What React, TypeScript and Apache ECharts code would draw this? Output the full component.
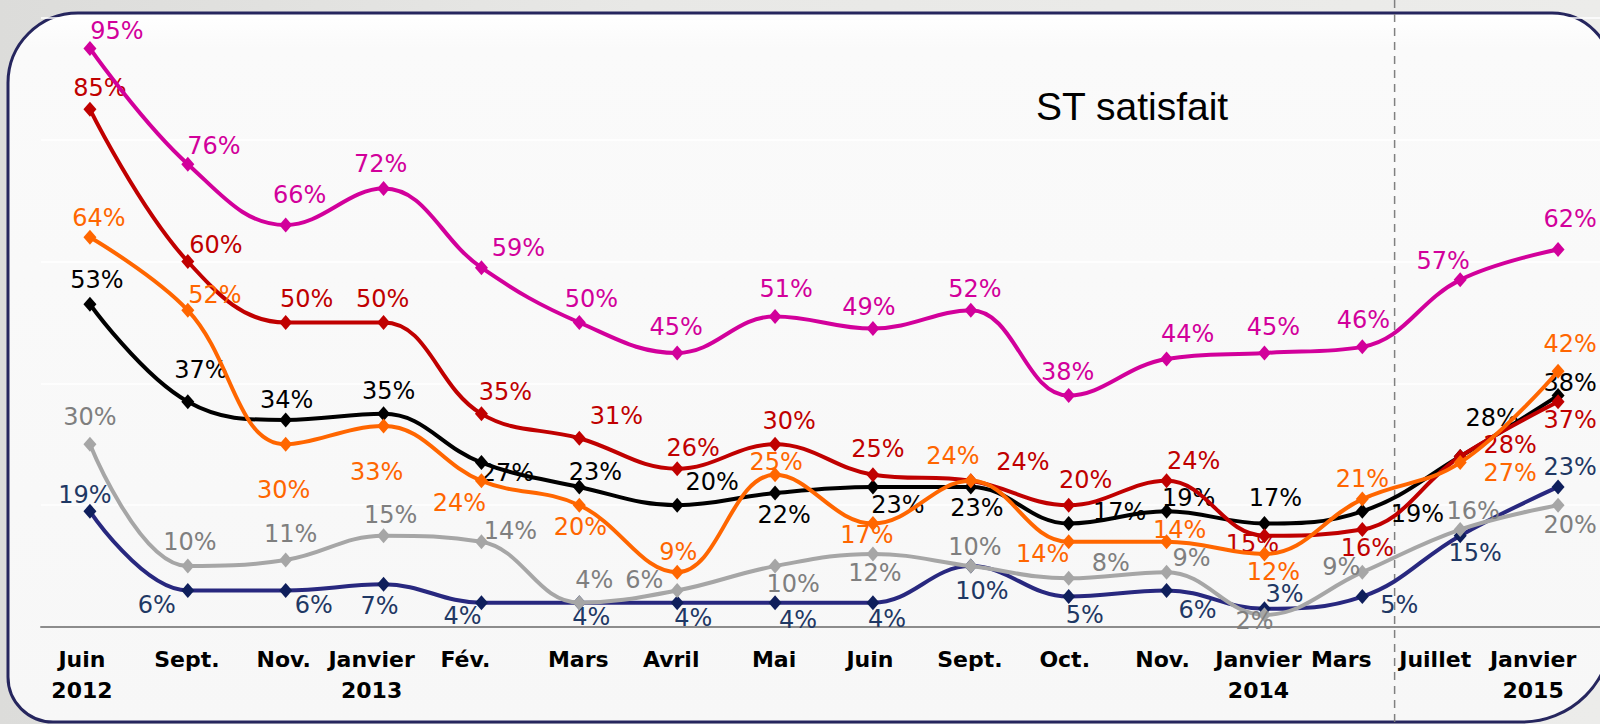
import React, { useEffect, useRef } from "react";
import * as echarts from "echarts";

const categories = ["Juin\n2012", "Sept.", "Nov.", "Janvier\n2013", "Fév.", "Mars", "Avril", "Mai", "Juin", "Sept.", "Oct.", "Nov.", "Janvier\n2014", "Mars", "Juillet", "Janvier\n2015"];
const tickShift = [-8, -1, -2, -12, -16, -1, -6, -1, -3, -1, -4, -4, -6, -21, -25, -25];

const magentaValues = [95, 76, 66, 72, 59, 50, 45, 51, 49, 52, 38, 44, 45, 46, 57, 62];
const redValues = [85, 60, 50, 50, 35, 31, 26, 30, 25, 24, 20, 24, 15, 16, 28, 37];
const orangeValues = [64, 52, 30, 33, 24, 20, 9, 25, 17, 24, 14, 14, 12, 21, 27, 42];
const blackValues = [53, 37, 34, 35, 27, 23, 20, 22, 23, 23, 17, 19, 17, 19, 28, 38];
const greyValues = [30, 10, 11, 15, 14, 4, 6, 10, 12, 10, 8, 9, 2, 9, 16, 20];
const navyValues = [19, 6, 6, 7, 4, 4, 4, 4, 4, 10, 5, 6, 3, 5, 15, 23];

// label offsets relative to each point (style only)
const magentaLabelOffset = [[27, -17], [26, -18], [14, -30], [-3, -25], [37, -20], [12, -24], [-1, -26], [11, -27], [-4, -22], [4, -21], [-1, -24], [21, -25], [9, -26], [1, -27], [-17, -19], [12, -30]];
const redLabelOffset = [[10, -21], [28, -17], [21, -24], [-1, -24], [24, -22], [37, -22], [16, -21], [14, -23], [5, -26], [52, -19], [17, -25], [27, -20], [-12, 8], [5, 18], [50, -11], [12, 18]];
const orangeLabelOffset = [[9, -19], [27, -15], [-2, 46], [-7, 46], [-22, 22], [1, 22], [1, -20], [1, -13], [-6, 12], [-18, -25], [-26, 12], [13, -12], [9, 18], [0, -20], [50, 10], [12, -27]];
const blackLabelOffset = [[7, -24], [13, -32], [1, -20], [5, -23], [26, 10], [16, -15], [35, -23], [9, 22], [25, 18], [6, 21], [51, -11], [22, -13], [11, -25], [55, 3], [32, -38], [12, -13]];
const greyLabelOffset = [[0, -27], [2, -24], [5, -26], [7, -21], [29, -11], [15, -23], [-33, -10], [18, 18], [2, 19], [4, -19], [42, -15], [25, -14], [-10, 6], [-21, -5], [13, -19], [12, 20]];
const navyLabelOffset = [[-5, -16], [-31, 15], [28, 15], [-4, 22], [-19, 13], [12, 14], [16, 15], [23, 17], [14, 16], [11, 25], [16, 18], [31, 20], [20, -15], [37, 8], [15, 17], [12, -20]];

const LABEL_FONT = '"DejaVu Sans", Verdana, sans-serif';

function makeSeries(name: string, values: number[], offsets: number[][], lineColor: string, labelColor: string, markerColor: string, z: number) {
  return {
    name,
    type: "line",
    smooth: 0.4,
    z,
    symbol: "diamond",
    symbolSize: [13, 15],
    lineStyle: { color: lineColor, width: 4 },
    itemStyle: { color: markerColor },
    label: {
      show: true,
      position: "inside",
      formatter: "{c}%",
      color: labelColor,
      fontFamily: LABEL_FONT,
      fontSize: 24,
    },
    data: values.map((v, i) => ({ value: v, label: { offset: offsets[i] } })),
  };
}

export default function App() {
  const ref = useRef<HTMLDivElement>(null);
  useEffect(() => {
    if (!ref.current) return;
    const chart = echarts.init(ref.current, null, { renderer: "svg" });
    const option: any = {
      animation: false,
      backgroundColor: "transparent",
      grid: { left: 41, width: 1566, top: 18, bottom: 97, containLabel: false, outerBoundsMode: "none" },
      xAxis: {
        type: "category",
        boundaryGap: true,
        data: categories.map((c, i) => ({
          value: c,
          textStyle: { padding: [0, Math.max(0, -tickShift[i] * 2), 0, 0] },
        })),
        axisLine: { show: true, lineStyle: { color: "#8c8c8c", width: 2 } },
        axisTick: { show: false },
        axisLabel: {
          interval: 0,
          margin: 17,
          color: "#000",
          fontFamily: LABEL_FONT,
          fontWeight: "bold",
          fontSize: 22,
          lineHeight: 31,
          hideOverlap: false,
        },
        splitLine: { show: false },
      },
      yAxis: {
        type: "value",
        min: 0,
        max: 100,
        interval: 20,
        axisLine: { show: false },
        axisTick: { show: false },
        axisLabel: { show: false },
        splitLine: { show: true, lineStyle: { color: "#ffffff", width: 1.5 } },
      },
      graphic: [
        {
          type: "rect",
          z: -10,
          silent: true,
          shape: { x: 8, y: 13, width: 1604, height: 709, r: [70, 60, 90, 45] },
          style: {
            fill: new echarts.graphic.LinearGradient(0, 0, 0, 1, [
              { offset: 0, color: "#ffffff" },
              { offset: 0.05, color: "#fafafa" },
              { offset: 1, color: "#f7f7f7" },
            ]),
            stroke: "#26265e",
            lineWidth: 3,
          },
        },
        {
          type: "text",
          left: 1036,
          top: 87,
          z: 10,
          style: {
            text: "ST satisfait",
            fill: "#000",
            font: '39px "Liberation Sans", Arial, sans-serif',
          },
        },
      ],
      series: [
        makeSeries("navy", navyValues, navyLabelOffset, "#28287f", "#1f3864", "#0f1f5c", 2),
        makeSeries("gris", greyValues, greyLabelOffset, "#a6a6a6", "#7f7f7f", "#a6a6a6", 3),
        makeSeries("noir", blackValues, blackLabelOffset, "#000000", "#000000", "#000000", 4),
        makeSeries("rouge", redValues, redLabelOffset, "#c00000", "#c00000", "#c00000", 5),
        makeSeries("orange", orangeValues, orangeLabelOffset, "#ff6600", "#ff6600", "#ff6600", 6),
        makeSeries("magenta", magentaValues, magentaLabelOffset, "#d2009b", "#d2009b", "#d2009b", 7),
      ],
    };
    chart.setOption(option);
    const p13 = chart.convertToPixel({ xAxisIndex: 0 }, 13) as number;
    const p14 = chart.convertToPixel({ xAxisIndex: 0 }, 14) as number;
    const dashX = p13 + 0.33 * (p14 - p13);
    chart.setOption({
      graphic: [
        option.graphic[0],
        option.graphic[1],
        {
          type: "line",
          z: 1,
          silent: true,
          shape: { x1: dashX, y1: 0, x2: dashX, y2: 724 },
          style: { stroke: "#808080", lineWidth: 1.5, lineDash: [8, 6] },
        },
      ],
    });
    return () => chart.dispose();
  }, []);
  return (
    <div
      style={{
        position: "fixed",
        left: 0,
        top: 0,
        width: 1600,
        height: 724,
        background: "linear-gradient(90deg, #dcdcda 0%, #e8e8e6 40%, #ececea 100%)",
        overflow: "hidden",
      }}
    >
      <div ref={ref} style={{ width: 1600, height: 724 }} />
    </div>
  );
}
